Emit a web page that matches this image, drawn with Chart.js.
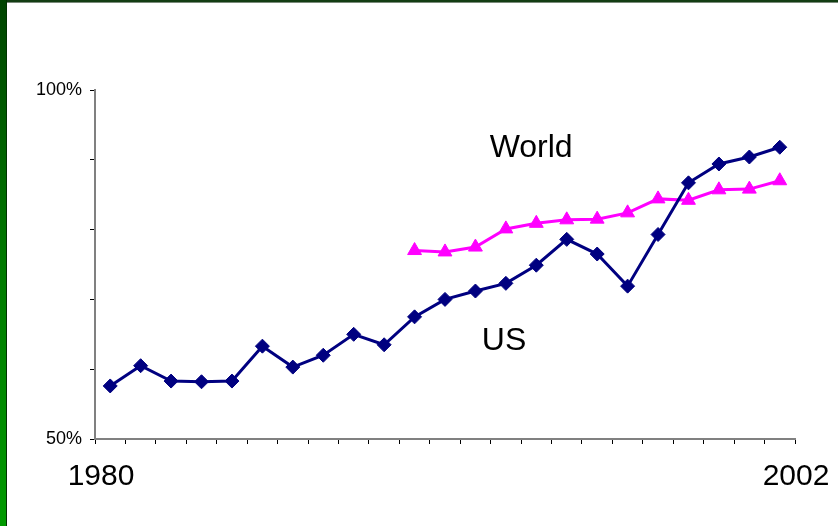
<!DOCTYPE html>
<html>
<head>
<meta charset="utf-8">
<script src="https://cdn.jsdelivr.net/npm/chart.js@4/dist/chart.umd.min.js"></script>
<style>
  html, body { margin: 0; padding: 0; background: #fff; }
  #wrap { position: relative; width: 838px; height: 526px; overflow: hidden; background: #fff; }
  #chart { position: absolute; left: 0; top: 0; }
  #leftBar { position: absolute; left: 0; top: 0; width: 6px; height: 526px;
    background: linear-gradient(#004400, #007a00 50%, #009a00); border-right: 1px solid #003300; }
  #topBar { position: absolute; left: 0; top: 0; width: 838px; height: 2px;
    background: #123d12; border-bottom: 1px solid #7a8a7a; }
</style>
</head>
<body>
<div id="wrap">
  <canvas id="chart" width="838" height="526"></canvas>
  <div id="topBar"></div>
  <div id="leftBar"></div>
</div>
<script>
const years = [];
for (let y = 1980; y <= 2002; y++) years.push(String(y));

// share (%)
const usValues = [57.6, 60.5, 58.3, 58.2, 58.3, 63.3, 60.3, 62.0, 65.0, 63.5,
  67.5, 70.0, 71.2, 72.3, 74.9, 78.6, 76.5, 71.9, 79.3, 86.7, 89.4, 90.4, 91.8];
const worldValues = [null, null, null, null, null, null, null, null, null, null,
  77.0, 76.8, 77.5, 80.1, 80.9, 81.4, 81.5, 82.4, 84.4, 84.2, 85.7, 85.8, 87.0];
const yTickLabels = { 50: '50%', 100: '100%' };
const endLabels = ['1980', '2002'];

const FONT = 'Arial, "Liberation Sans", sans-serif';

// draws the two year labels at the ends of the x axis and the series names
const textPlugin = {
  id: 'texts',
  afterDraw(chart) {
    const ctx = chart.ctx;
    const x = chart.scales.x;
    const y = chart.scales.y;
    ctx.save();
    ctx.fillStyle = '#000';
    ctx.font = '30px ' + FONT;
    ctx.textAlign = 'center';
    ctx.textBaseline = 'alphabetic';
    ctx.fillText(endLabels[0], x.left + 6, 485);
    ctx.fillText(endLabels[1], x.right + 1, 485);
    ctx.font = '32px ' + FONT;
    ctx.fillText('World', x.getPixelForValue(13.83), y.getPixelForValue(90.4));
    ctx.fillText('US', x.getPixelForValue(12.94), y.getPixelForValue(62.75));
    ctx.restore();
  }
};

new Chart(document.getElementById('chart'), {
  type: 'line',
  data: {
    labels: years,
    datasets: [{
      label: 'US',
      data: usValues,
      borderColor: '#000080',
      backgroundColor: '#000080',
      borderWidth: 3,
      pointStyle: 'rectRot',
      pointRadius: 7,
      pointBorderWidth: 1,
      tension: 0
    }, {
      label: 'World',
      data: worldValues,
      borderColor: '#ff00ff',
      backgroundColor: '#ff00ff',
      borderWidth: 3,
      pointStyle: 'triangle',
      pointRadius: 8,
      pointBorderWidth: 1,
      spanGaps: false,
      tension: 0
    }]
  },
  options: {
    responsive: false,
    animation: false,
    layout: { padding: { left: 35, right: 43, top: 90, bottom: 0 } },
    plugins: { legend: { display: false }, tooltip: { enabled: false } },
    scales: {
      x: {
        offset: true,
        grid: { offset: true, drawOnChartArea: false, drawTicks: true, tickLength: 5, color: '#000', lineWidth: 1 },
        border: { color: '#808080', width: 2 },
        ticks: { autoSkip: false, callback: () => '', padding: 0 },
        afterFit(scale) { scale.height = 87; }
      },
      y: {
        min: 50,
        max: 100,
        grid: { drawOnChartArea: false, drawTicks: true, tickLength: 5, color: '#000', lineWidth: 1 },
        border: { color: '#808080', width: 2 },
        ticks: {
          stepSize: 10,
          padding: 8,
          color: '#000',
          font: { family: FONT, size: 18 },
          callback: v => yTickLabels[v] || ''
        },
        afterFit(scale) { scale.width = 60; }
      }
    }
  },
  plugins: [textPlugin]
});
</script>
</body>
</html>
